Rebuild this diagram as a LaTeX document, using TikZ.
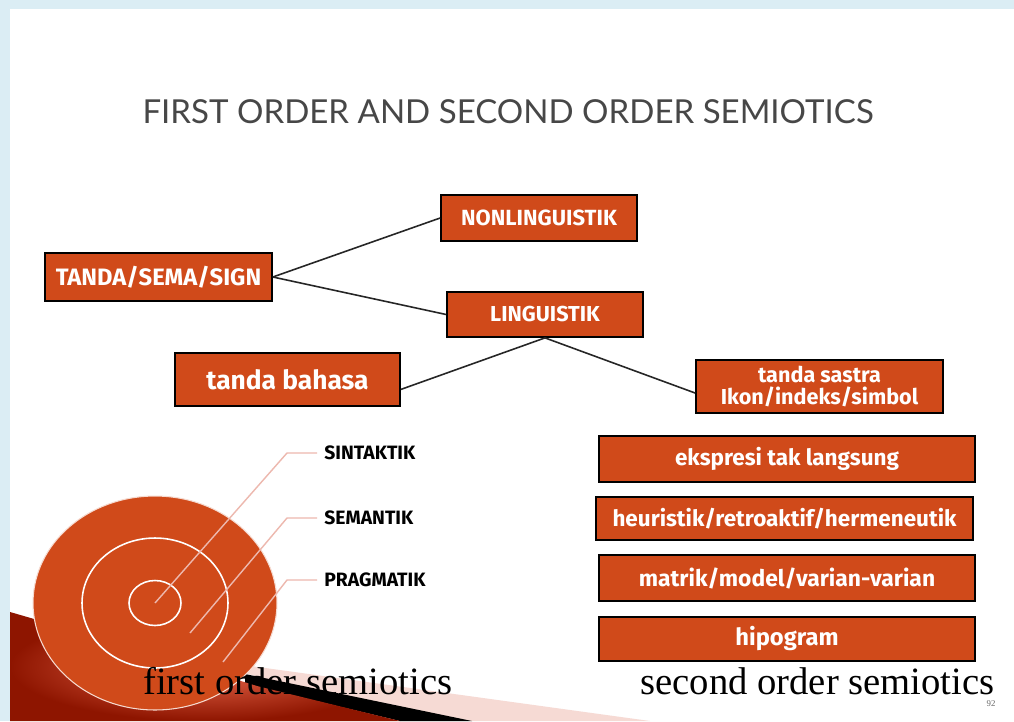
\documentclass[tikz,border=0pt]{standalone}
\usepackage{fontspec}
\newfontfamily\boxfont{Fira Sans}
\newfontfamily\titlefont{Lato}
\newfontfamily\capfont{Liberation Serif}
\definecolor{slideblue}{HTML}{DBEDF4}
\definecolor{boxred}{HTML}{D04A1A}
\definecolor{leader}{HTML}{EDB8AE}
\definecolor{swdark}{HTML}{8E1500}
\definecolor{swlight}{HTML}{EC6A4E}
\definecolor{swpink}{HTML}{F6DAD4}

\begin{document}
\begin{tikzpicture}[x=0.02cm,y=-0.02cm,
  tbox/.style={draw=black,line width=1pt,fill=boxred,text=white,
    font=\boxfont\bfseries,inner sep=1pt,align=center},
  link/.style={line width=0.9pt,black!85},
  ring/.style={draw=white,line width=0.9pt},
  lead/.style={leader,line width=0.8pt},
  lvl/.style={anchor=west,inner xsep=4pt,font=\boxfont\bfseries\fontsize{11}{12}\selectfont}]
\fill[slideblue] (0,0) rectangle (1014,721);
\fill[white] (10,9) rectangle (1014,721);
\useasboundingbox (0,0) rectangle (1014,721);

\node[font=\titlefont\fontsize{18.8}{22}\selectfont,text=black!72] (title) at (508,112) {FIRST ORDER AND SECOND ORDER SEMIOTICS};

% first order part
\node[tbox,minimum width=4.54cm,minimum height=0.96cm,font=\boxfont\bfseries\fontsize{13.5}{15}\selectfont] (sign) at (158.5,277) {TANDA/SEMA/SIGN};
\node[tbox,minimum width=3.92cm,minimum height=0.92cm,font=\boxfont\bfseries\fontsize{12.5}{14}\selectfont] (nonling) at (539,218) {NONLINGUISTIK};
\node[tbox,minimum width=3.92cm,minimum height=0.9cm,font=\boxfont\bfseries\fontsize{12.3}{14}\selectfont] (ling) at (545,314.5) {LINGUISTIK};
\node[tbox,minimum width=4.5cm,minimum height=1.06cm,font=\boxfont\bfseries\fontsize{15}{17}\selectfont] (bahasa) at (287.5,379.5) {tanda bahasa};
\node[tbox,minimum width=4.94cm,minimum height=1.06cm,font=\boxfont\bfseries\fontsize{12.3}{12.5}\selectfont] (sastra) at (819.5,386.5) {tanda sastra\\Ikon/indeks/simbol};
\draw[link] (sign.east) -- (nonling.west);
\draw[link] (sign.east) -- (ling.west);
\draw[link] (ling.south) -- (bahasa.355);
\draw[link] (ling.south) -- (sastra.183);

% second order part
\node[tbox,minimum width=7.52cm,minimum height=0.92cm,font=\boxfont\bfseries\fontsize{12.8}{14}\selectfont] (ekspresi) at (787,459) {ekspresi tak langsung};
\node[tbox,minimum width=7.54cm,minimum height=0.86cm,font=\boxfont\bfseries\fontsize{12.8}{14}\selectfont] (heur) at (784.5,518.5) {heuristik/retroaktif/hermeneutik};
\node[tbox,minimum width=7.52cm,minimum height=0.92cm,font=\boxfont\bfseries\fontsize{13}{14}\selectfont] (matrik) at (787,578) {matrik/model/varian-varian};
\node[tbox,minimum width=7.52cm,minimum height=0.88cm,font=\boxfont\bfseries\fontsize{13.5}{14}\selectfont] (hipo) at (787,639) {hipogram};

% swoosh at the bottom
\fill[swpink] (200,659) -- (650,721) -- (400,721) -- cycle;
\fill[black] (245,674) -- (472,721) -- (400,721) -- (245,684) -- cycle;
\shade[inner color=swlight,outer color=swdark]
  (10,612) .. controls (100,638) and (180,662) .. (257,686) -- (400,721) -- (10,721) -- cycle;

% target
\fill[boxred,draw=white!80!boxred,line width=0.6pt] (155,603) ellipse [x radius=2.44cm,y radius=2.14cm];
\draw[ring] (155,603) ellipse [x radius=1.46cm,y radius=1.3cm];
\draw[ring] (155,603) ellipse [x radius=0.52cm,y radius=0.45cm];
\coordinate (p1) at (155,603);
\coordinate (p2) at (190,633);
\coordinate (p3) at (223,662);
\node[lvl] (sin) at (317,453) {SINTAKTIK};
\node[lvl] (sem) at (317,518) {SEMANTIK};
\node[lvl] (prag) at (317,580) {PRAGMATIK};
\draw[lead] (p1) -- (287,453) -- (sin.west);
\draw[lead] (p2) -- (287,518) -- (sem.west);
\draw[lead] (p3) -- (287,580) -- (prag.west);

\node[anchor=base west,inner sep=0pt,font=\capfont\fontsize{22}{24}\selectfont] (first) at (143,694) {first order semiotics};
\node[anchor=base west,inner sep=0pt,font=\capfont\fontsize{22}{24}\selectfont] (second) at (640,694) {second order semiotics};
\node[font=\capfont\fontsize{5}{6}\selectfont,text=black!60] (page) at (991,704) {92};
\end{tikzpicture}
\end{document}
